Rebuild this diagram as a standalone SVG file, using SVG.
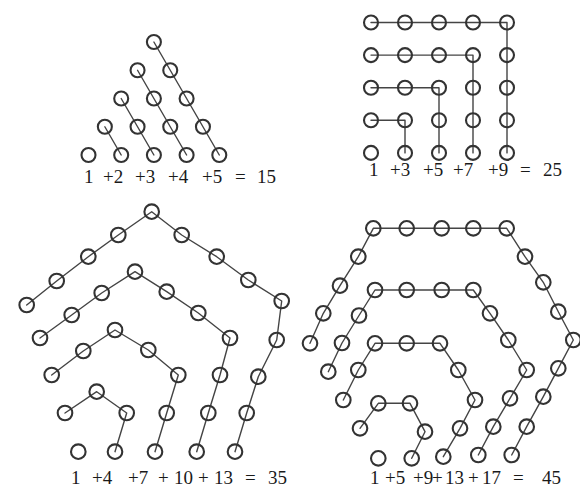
<svg xmlns="http://www.w3.org/2000/svg" width="580" height="489" viewBox="0 0 580 489">
<style>
.bg{fill:#ffffff}
.ln{fill:none;stroke:#444;stroke-width:1.4;stroke-linejoin:round;stroke-linecap:round}
.dot circle{fill:none;stroke:#333;stroke-width:2.1}
.lab{font-family:"Liberation Serif","Times New Roman",serif;font-size:19px;fill:#1a1a1a}
</style>
<rect class="bg" x="0" y="0" width="580" height="489"/>
<g id="connectors">
<!-- triangle -->
<polyline class="ln" points="153.9,42 219.3,155"/>
<polyline class="ln" points="137.55,70.25 186.6,155"/>
<polyline class="ln" points="121.2,98.5 153.9,155"/>
<polyline class="ln" points="104.85,126.75 121.2,155"/>
<!-- square -->
<polyline class="ln" points="371,120.3 405,120.3 405,152.9"/>
<polyline class="ln" points="371,87.7 439,87.7 439,152.9"/>
<polyline class="ln" points="371,55.1 473,55.1 473,152.9"/>
<polyline class="ln" points="371,22.5 507,22.5 507,152.9"/>
<!-- pentagon -->
<polyline class="ln" points="26.7,305 56.7,281 88.3,256.7 118.3,235 151.7,211.7 181.7,235 216.7,256.7 248.3,280 281.7,301 276.7,340 258.3,376.7 246.7,413 235,451.7"/>
<polyline class="ln" points="40,338 71.7,315 101.7,293 135,271.7 166.7,291.7 198.3,313 230,338 220,375 208.3,413 196.7,451.7"/>
<polyline class="ln" points="51.7,375 83.3,351 115,330 148.3,350 178.3,375 166.7,413 155,451.7"/>
<polyline class="ln" points="65,413 96.7,391.7 126.7,413 115,451.7"/>
<!-- hexagon -->
<polyline class="ln" points="310,343.3 323.3,313.3 340,285.7 358.3,256.7 373.3,228.3 406.7,228.3 441.7,228.3 473.3,228.3 506.7,228.3 525,256.7 543.3,282.3 558.3,311.7 573.3,340 558.3,368.3 543.3,396.7 526.7,426.7 511.7,455"/>
<polyline class="ln" points="328.3,371.7 342,343 359,315.5 375,290 406.7,290 441.7,290 473.3,290 490,313.3 508.3,340 526.7,370 510,398.3 493.3,426.7 478.3,455"/>
<polyline class="ln" points="343.3,400 358.3,370 375,343.3 406.7,343.3 440,343.3 458.3,370 475,400 460,428.3 443.3,456.7"/>
<polyline class="ln" points="360,428.3 378.3,403.3 410,403.3 425,431.7 411.7,458.3"/>
</g>
<g id="triangle" class="dot">
<circle cx="153.9" cy="42" r="7"/>
<circle cx="137.55" cy="70.25" r="7"/><circle cx="170.25" cy="70.25" r="7"/>
<circle cx="121.2" cy="98.5" r="7"/><circle cx="153.9" cy="98.5" r="7"/><circle cx="186.6" cy="98.5" r="7"/>
<circle cx="104.85" cy="126.75" r="7"/><circle cx="137.55" cy="126.75" r="7"/><circle cx="170.25" cy="126.75" r="7"/><circle cx="202.95" cy="126.75" r="7"/>
<circle cx="88.5" cy="155" r="7"/><circle cx="121.2" cy="155" r="7"/><circle cx="153.9" cy="155" r="7"/><circle cx="186.6" cy="155" r="7"/><circle cx="219.3" cy="155" r="7"/>
</g>
<g id="square" class="dot">
<circle cx="371" cy="22.5" r="7"/><circle cx="405" cy="22.5" r="7"/><circle cx="439" cy="22.5" r="7"/><circle cx="473" cy="22.5" r="7"/><circle cx="507" cy="22.5" r="7"/>
<circle cx="371" cy="55.1" r="7"/><circle cx="405" cy="55.1" r="7"/><circle cx="439" cy="55.1" r="7"/><circle cx="473" cy="55.1" r="7"/><circle cx="507" cy="55.1" r="7"/>
<circle cx="371" cy="87.7" r="7"/><circle cx="405" cy="87.7" r="7"/><circle cx="439" cy="87.7" r="7"/><circle cx="473" cy="87.7" r="7"/><circle cx="507" cy="87.7" r="7"/>
<circle cx="371" cy="120.3" r="7"/><circle cx="405" cy="120.3" r="7"/><circle cx="439" cy="120.3" r="7"/><circle cx="473" cy="120.3" r="7"/><circle cx="507" cy="120.3" r="7"/>
<circle cx="371" cy="152.9" r="7"/><circle cx="405" cy="152.9" r="7"/><circle cx="439" cy="152.9" r="7"/><circle cx="473" cy="152.9" r="7"/><circle cx="507" cy="152.9" r="7"/>
</g>
<g id="pentagon" class="dot">
<circle cx="26.7" cy="305" r="7.3"/><circle cx="56.7" cy="281" r="7.3"/><circle cx="88.3" cy="256.7" r="7.3"/><circle cx="118.3" cy="235" r="7.3"/><circle cx="151.7" cy="211.7" r="7.3"/><circle cx="181.7" cy="235" r="7.3"/><circle cx="216.7" cy="256.7" r="7.3"/><circle cx="248.3" cy="280" r="7.3"/><circle cx="281.7" cy="301" r="7.3"/><circle cx="276.7" cy="340" r="7.3"/><circle cx="258.3" cy="376.7" r="7.3"/><circle cx="246.7" cy="413" r="7.3"/><circle cx="235" cy="451.7" r="7.3"/>
<circle cx="40" cy="338" r="7.3"/><circle cx="71.7" cy="315" r="7.3"/><circle cx="101.7" cy="293" r="7.3"/><circle cx="135" cy="271.7" r="7.3"/><circle cx="166.7" cy="291.7" r="7.3"/><circle cx="198.3" cy="313" r="7.3"/><circle cx="230" cy="338" r="7.3"/><circle cx="220" cy="375" r="7.3"/><circle cx="208.3" cy="413" r="7.3"/><circle cx="196.7" cy="451.7" r="7.3"/>
<circle cx="51.7" cy="375" r="7.3"/><circle cx="83.3" cy="351" r="7.3"/><circle cx="115" cy="330" r="7.3"/><circle cx="148.3" cy="350" r="7.3"/><circle cx="178.3" cy="375" r="7.3"/><circle cx="166.7" cy="413" r="7.3"/><circle cx="155" cy="451.7" r="7.3"/>
<circle cx="65" cy="413" r="7.3"/><circle cx="96.7" cy="391.7" r="7.3"/><circle cx="126.7" cy="413" r="7.3"/><circle cx="115" cy="451.7" r="7.3"/>
<circle cx="78.3" cy="451.7" r="7.3"/>
</g>
<g id="hexagon" class="dot">
<circle cx="310" cy="343.3" r="7.3"/><circle cx="323.3" cy="313.3" r="7.3"/><circle cx="340" cy="285.7" r="7.3"/><circle cx="358.3" cy="256.7" r="7.3"/><circle cx="373.3" cy="228.3" r="7.3"/><circle cx="406.7" cy="228.3" r="7.3"/><circle cx="441.7" cy="228.3" r="7.3"/><circle cx="473.3" cy="228.3" r="7.3"/><circle cx="506.7" cy="228.3" r="7.3"/><circle cx="525" cy="256.7" r="7.3"/><circle cx="543.3" cy="282.3" r="7.3"/><circle cx="558.3" cy="311.7" r="7.3"/><circle cx="573.3" cy="340" r="7.3"/><circle cx="558.3" cy="368.3" r="7.3"/><circle cx="543.3" cy="396.7" r="7.3"/><circle cx="526.7" cy="426.7" r="7.3"/><circle cx="511.7" cy="455" r="7.3"/>
<circle cx="328.3" cy="371.7" r="7.3"/><circle cx="342" cy="343" r="7.3"/><circle cx="359" cy="315.5" r="7.3"/><circle cx="375" cy="290" r="7.3"/><circle cx="406.7" cy="290" r="7.3"/><circle cx="441.7" cy="290" r="7.3"/><circle cx="473.3" cy="290" r="7.3"/><circle cx="490" cy="313.3" r="7.3"/><circle cx="508.3" cy="340" r="7.3"/><circle cx="526.7" cy="370" r="7.3"/><circle cx="510" cy="398.3" r="7.3"/><circle cx="493.3" cy="426.7" r="7.3"/><circle cx="478.3" cy="455" r="7.3"/>
<circle cx="343.3" cy="400" r="7.3"/><circle cx="358.3" cy="370" r="7.3"/><circle cx="375" cy="343.3" r="7.3"/><circle cx="406.7" cy="343.3" r="7.3"/><circle cx="440" cy="343.3" r="7.3"/><circle cx="458.3" cy="370" r="7.3"/><circle cx="475" cy="400" r="7.3"/><circle cx="460" cy="428.3" r="7.3"/><circle cx="443.3" cy="456.7" r="7.3"/>
<circle cx="360" cy="428.3" r="7.3"/><circle cx="378.3" cy="403.3" r="7.3"/><circle cx="410" cy="403.3" r="7.3"/><circle cx="425" cy="431.7" r="7.3"/><circle cx="411.7" cy="458.3" r="7.3"/>
<circle cx="378.3" cy="458.3" r="7.3"/>
</g>
<g id="labels" class="lab">
<text y="183"><tspan x="84">1</tspan><tspan x="103">+2</tspan><tspan x="135">+3</tspan><tspan x="168">+4</tspan><tspan x="202">+5</tspan><tspan x="235">=</tspan><tspan x="257">15</tspan></text>
<text y="176"><tspan x="369">1</tspan><tspan x="390">+3</tspan><tspan x="423">+5</tspan><tspan x="453">+7</tspan><tspan x="488">+9</tspan><tspan x="520">=</tspan><tspan x="543">25</tspan></text>
<text y="484"><tspan x="71">1</tspan><tspan x="92">+4</tspan><tspan x="128">+7</tspan><tspan x="158">+</tspan><tspan x="174">10</tspan><tspan x="198">+</tspan><tspan x="214">13</tspan><tspan x="245">=</tspan><tspan x="268">35</tspan></text>
<text y="484"><tspan x="370">1</tspan><tspan x="385">+5</tspan><tspan x="413">+9</tspan><tspan x="432">+</tspan><tspan x="445">13</tspan><tspan x="468">+</tspan><tspan x="482">17</tspan><tspan x="513">=</tspan><tspan x="542">45</tspan></text>
</g>
</svg>
